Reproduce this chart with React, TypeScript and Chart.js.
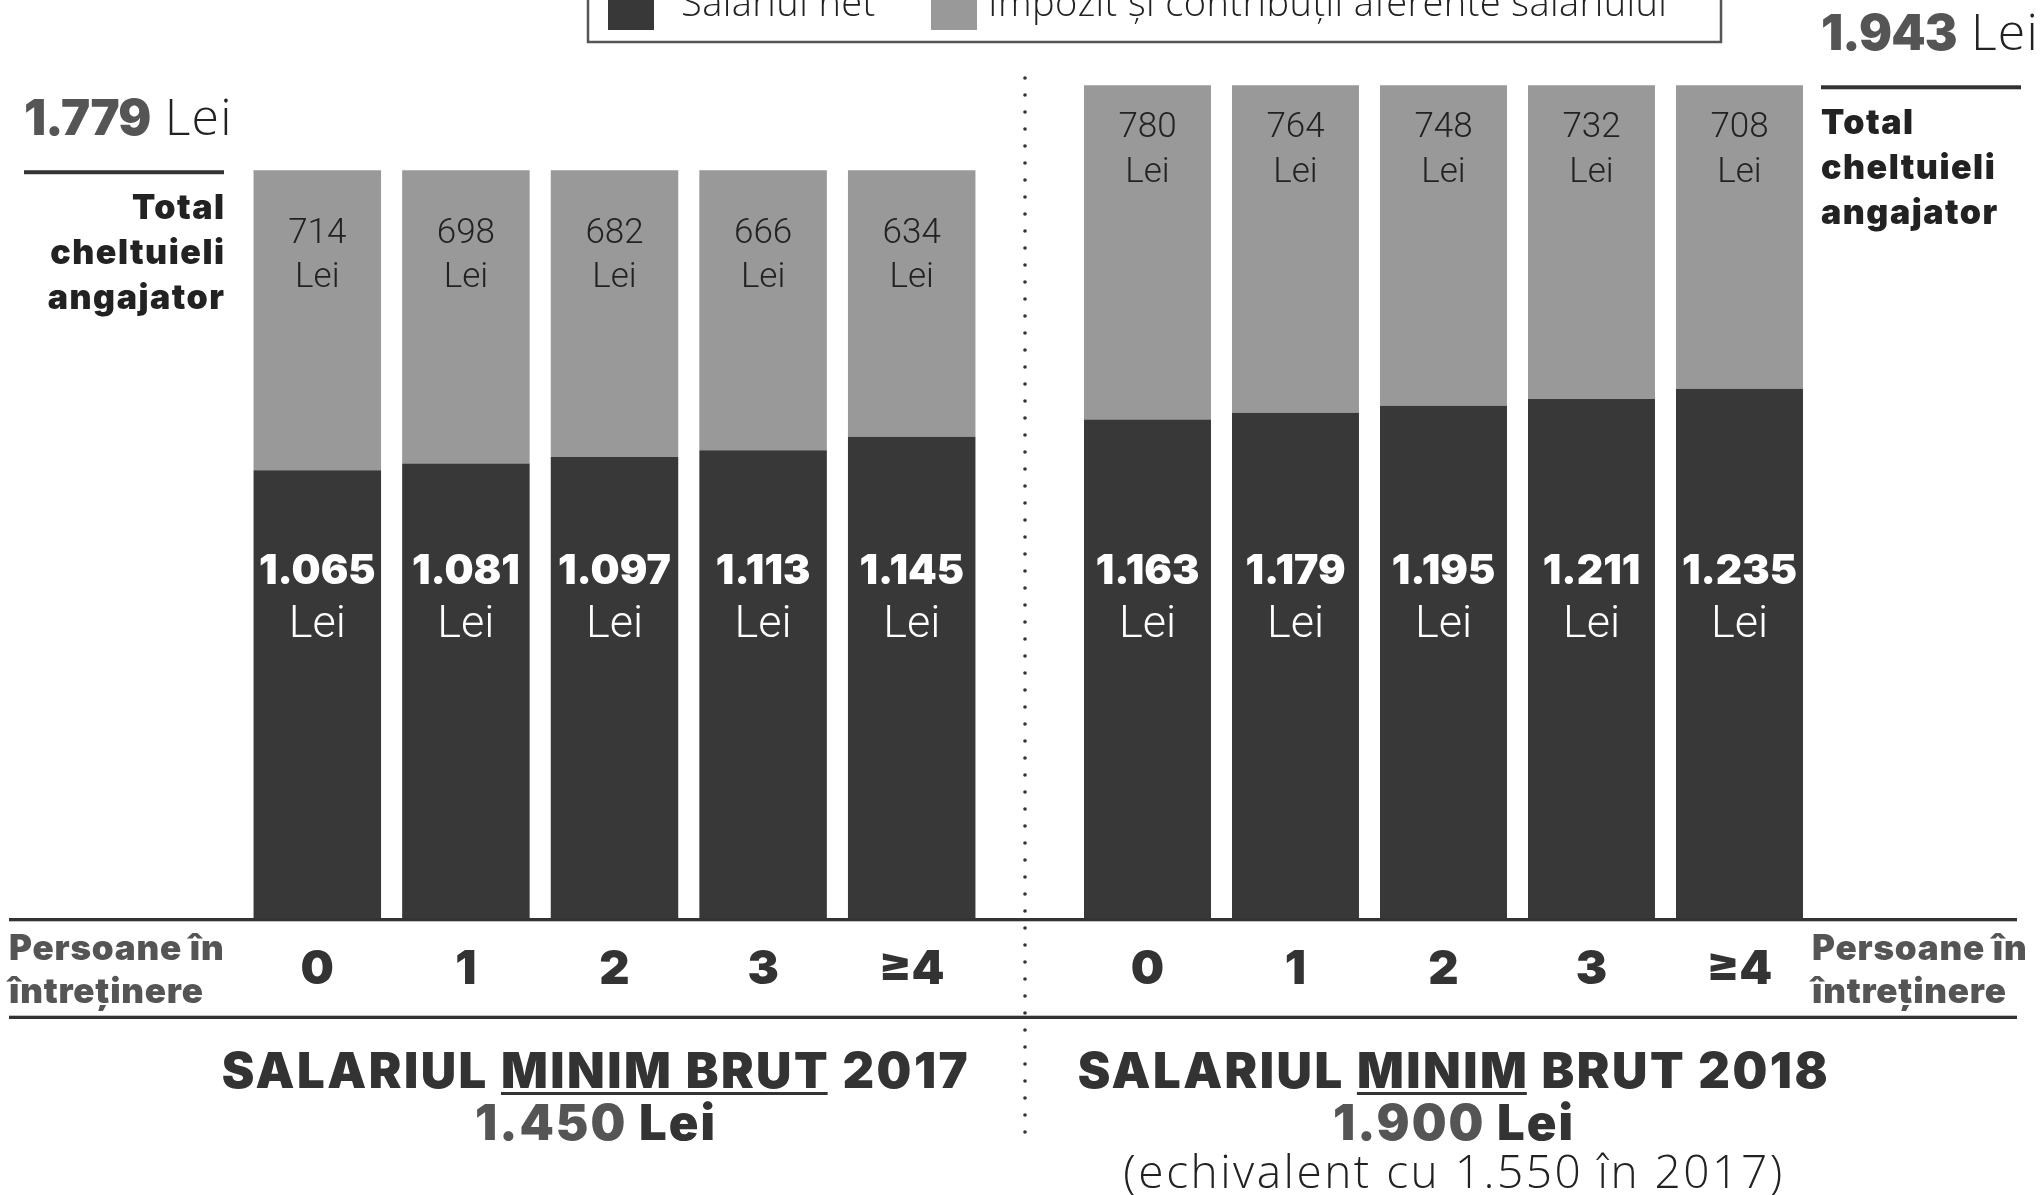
import React, { useEffect, useRef } from 'react';
import { Chart, registerables } from 'chart.js';

Chart.register(...registerables);

// ---------------- data ----------------
const CATEGORIES = ['0', '1', '2', '3', '≥4'];
const NET_2017 = [1065, 1081, 1097, 1113, 1145];
const TAX_2017 = [714, 698, 682, 666, 634];
const NET_2018 = [1163, 1179, 1195, 1211, 1235];
const TAX_2018 = [780, 764, 748, 732, 708];
const TOTAL_2017 = 1779;
const TOTAL_2018 = 1943;
const GROSS_2017 = 1450;
const GROSS_2018 = 1900;
const EQUIV_2017 = 1550;
const SERIES_LABELS = ['Salariul net', 'Impozit și contribuții aferente salariului'];
const TOTAL_LABEL = ['Total', 'cheltuieli', 'angajator'];
const AXIS_LABEL = ['Persoane în', 'întreținere'];
const CURRENCY = 'Lei';

// ---------------- style ----------------
const W = 2040;
const H = 1195;
const DARK = '#383838';
const GRAY = '#999999';
const FAM = 'Roboto, "Noto Sans", "DejaVu Sans", sans-serif';
const HEAVY = 'Inter, Roboto, "Noto Sans", sans-serif';
const WIDE = '"Open Sans", Roboto, "Noto Sans", sans-serif';
const fmt = (n: number) => String(n).replace(/\B(?=(\d{3})+(?!\d))/g, '.');

type Side = {
  year: number;
  net: number[];
  tax: number[];
  total: number;
  gross: number;
  padLeft: number;
  padRight: number;
  yMax: number;
  grayOff: [number, number];
  side: 'left' | 'right';
  shared: boolean;
};

const LEFT: Side = {
  year: 2017, net: NET_2017, tax: TAX_2017, total: TOTAL_2017, gross: GROSS_2017,
  padLeft: 243, padRight: W - 986, yMax: 2184, grayOff: [73, 117], side: 'left', shared: true,
};
const RIGHT: Side = {
  year: 2018, net: NET_2018, tax: TAX_2018, total: TOTAL_2018, gross: GROSS_2018,
  padLeft: 1073.5, padRight: W - 1813.5, yMax: 2142, grayOff: [52, 97], side: 'right', shared: false,
};

type Part = { t: string; font: string; color: string; underline?: boolean; ls?: number };

function setLS(ctx: any, px: number) {
  if ('letterSpacing' in ctx) ctx.letterSpacing = px + 'px';
}

function drawMixed(ctx: CanvasRenderingContext2D, parts: Part[], cx: number, y: number, align: 'center' | 'left') {
  let total = 0;
  const widths = parts.map((p) => {
    ctx.font = p.font;
    setLS(ctx, p.ls || 0);
    const w = ctx.measureText(p.t).width;
    total += w;
    return w;
  });
  let x = align === 'center' ? cx - total / 2 : cx;
  ctx.textAlign = 'left';
  ctx.textBaseline = 'alphabetic';
  parts.forEach((p, i) => {
    ctx.font = p.font;
    setLS(ctx, p.ls || 0);
    ctx.fillStyle = p.color;
    ctx.fillText(p.t, x, y);
    if (p.underline) {
      ctx.fillRect(x, y + 4, widths[i] - (p.ls || 0), 3);
    }
    x += widths[i];
  });
  setLS(ctx, 0);
}

function makePlugin(s: Side) {
  return {
    id: 'annot' + s.year,
    afterDatasetsDraw(chart: any) {
      const ctx: CanvasRenderingContext2D = chart.ctx;
      const area = chart.chartArea;
      ctx.save();
      ctx.textAlign = 'center';
      ctx.textBaseline = 'alphabetic';
      const metaTax = chart.getDatasetMeta(1);
      metaTax.data.forEach((bar: any, i: number) => {
        const p = bar.getProps(['x', 'y'], true);
        ctx.font = `300 35px ${FAM}`;
        ctx.fillStyle = '#222';
        ctx.fillText(fmt(s.tax[i]), p.x, p.y + s.grayOff[0]);
        ctx.fillText(CURRENCY, p.x, p.y + s.grayOff[1]);
      });
      const metaNet = chart.getDatasetMeta(0);
      metaNet.data.forEach((bar: any, i: number) => {
        const p = bar.getProps(['x', 'y'], true);
        ctx.fillStyle = '#fff';
        ctx.font = `900 41px ${HEAVY}`;
        setLS(ctx, 0);
        ctx.fillText(fmt(s.net[i]), p.x, area.bottom - 334);
        ctx.font = `300 45px ${FAM}`;
        ctx.fillText(CURRENCY, p.x, area.bottom - 281);
      });
      ctx.restore();
    },
    afterDraw(chart: any) {
      const ctx: CanvasRenderingContext2D = chart.ctx;
      ctx.save();
      const yScale = chart.scales.y;
      const lineY = yScale.getPixelForValue(s.total) + 2;
      const isLeft = s.side === 'left';
      const x0 = isLeft ? 24 : 1821;
      // total header
      drawMixed(ctx, [
        { t: fmt(s.total), font: `900 49px ${HEAVY}`, color: '#555', ls: -0.8 },
        { t: ' ' + CURRENCY, font: `300 50px ${WIDE}`, color: '#222', ls: 1.2 },
      ], x0, lineY - 37, 'left');
      ctx.fillStyle = '#333';
      ctx.fillRect(x0, lineY - 2, 200, 4);
      ctx.font = `900 34px ${HEAVY}`;
      ctx.fillStyle = '#222';
      ctx.textAlign = isLeft ? 'right' : 'left';
      setLS(ctx, 1.5);
      TOTAL_LABEL.forEach((t, i) => {
        ctx.fillText(t, isLeft ? x0 + 200 + 1.5 : x0, lineY + 47 + i * 45);
      });
      setLS(ctx, 0);
      // axis label
      ctx.font = `900 35px ${HEAVY}`;
      ctx.fillStyle = '#555';
      ctx.textAlign = 'left';
      const ax = isLeft ? 9 : 1812;
      setLS(ctx, 0.8);
      AXIS_LABEL.forEach((t, i) => ctx.fillText(t, ax, 960 + i * 43));
      setLS(ctx, 0);
      // bottom title
      const cx = isLeft ? 596 : 1454;
      const heavy = `900 49px ${HEAVY}`;
      const LS = 2.5;
      const title: Part[] = isLeft
        ? [
            { t: 'SALARIUL ', font: heavy, color: '#333', ls: LS },
            { t: 'MINIM BRUT', font: heavy, color: '#333', underline: true, ls: LS },
            { t: ' ' + s.year, font: heavy, color: '#333', ls: LS },
          ]
        : [
            { t: 'SALARIUL ', font: heavy, color: '#333', ls: LS },
            { t: 'MINIM', font: heavy, color: '#333', underline: true, ls: LS },
            { t: ' BRUT ' + s.year, font: heavy, color: '#333', ls: LS },
          ];
      drawMixed(ctx, title, cx, 1088, 'center');
      drawMixed(ctx, [
        { t: fmt(s.gross), font: heavy, color: '#555', ls: 2 },
        { t: ' ' + CURRENCY, font: heavy, color: '#333', ls: 2 },
      ], cx, 1140, 'center');
      if (!isLeft) {
        drawMixed(ctx, [
          { t: `(echivalent cu ${fmt(EQUIV_2017)} în ${LEFT.year})`, font: `300 46px ${WIDE}`, color: '#222', ls: 2.5 },
        ], cx, 1188, 'center');
      }

      if (s.shared) {
        // horizontal rules
        ctx.fillStyle = '#333';
        ctx.fillRect(9, chart.chartArea.bottom, 2008, 3.3);
        ctx.fillRect(9, 1015.7, 2008, 3.3);
        // dotted separator
        for (let y = 78; y <= 1136; y += 17) {
          ctx.beginPath();
          ctx.arc(1025, y, 1.8, 0, Math.PI * 2);
          ctx.fill();
        }
        // legend box
        ctx.strokeStyle = '#555';
        ctx.lineWidth = 2.5;
        ctx.strokeRect(588, -30, 1133, 72);
        const ds = chart.data.datasets;
        const sw = [608, 931];
        const tx = [681, 988];
        ds.forEach((d: any, i: number) => {
          ctx.fillStyle = d.backgroundColor;
          ctx.fillRect(sw[i], -16, 46, 46);
          ctx.fillStyle = '#222';
          ctx.font = `300 38px ${WIDE}`;
          setLS(ctx, 0.4);
          ctx.textAlign = 'left';
          ctx.fillText(d.label, tx[i], 16);
          setLS(ctx, 0);
        });
      }
      ctx.restore();
    },
  };
}

function makeConfig(s: Side): any {
  return {
    type: 'bar',
    data: {
      labels: CATEGORIES,
      datasets: [
        { label: SERIES_LABELS[0], data: s.net, backgroundColor: DARK, borderWidth: 0 },
        { label: SERIES_LABELS[1], data: s.tax, backgroundColor: GRAY, borderWidth: 0 },
      ],
    },
    options: {
      responsive: false,
      animation: false,
      devicePixelRatio: 1,
      layout: { padding: { left: s.padLeft, right: s.padRight, top: 0, bottom: H - 1010 } },
      datasets: { bar: { categoryPercentage: 1, barPercentage: 0.858 } },
      plugins: { legend: { display: false }, tooltip: { enabled: false }, title: { display: false } },
      scales: {
        x: {
          stacked: true,
          grid: { display: false, drawTicks: false },
          border: { display: false },
          ticks: {
            color: '#333',
            font: { family: HEAVY, weight: '900', size: 47, lineHeight: 1.2 },
            padding: 24,
            maxRotation: 0,
            autoSkip: false,
          },
          afterFit: (scale: any) => { scale.height = 92; },
        },
        y: { stacked: true, display: false, min: 0, max: s.yMax },
      },
    },
    plugins: [makePlugin(s)],
  };
}

export default function App() {
  const ref1 = useRef<HTMLCanvasElement>(null);
  const ref2 = useRef<HTMLCanvasElement>(null);
  useEffect(() => {
    const c1 = new Chart(ref1.current as HTMLCanvasElement, makeConfig(LEFT));
    const c2 = new Chart(ref2.current as HTMLCanvasElement, makeConfig(RIGHT));
    return () => { c1.destroy(); c2.destroy(); };
  }, []);
  return (
    <div style={{ position: 'fixed', left: 0, top: 0, width: W, height: H, background: '#fff', overflow: 'hidden' }}>
      <canvas ref={ref1} width={W} height={H} style={{ position: 'absolute', left: 0, top: 0 }} />
      <canvas ref={ref2} width={W} height={H} style={{ position: 'absolute', left: 0, top: 0 }} />
    </div>
  );
}
